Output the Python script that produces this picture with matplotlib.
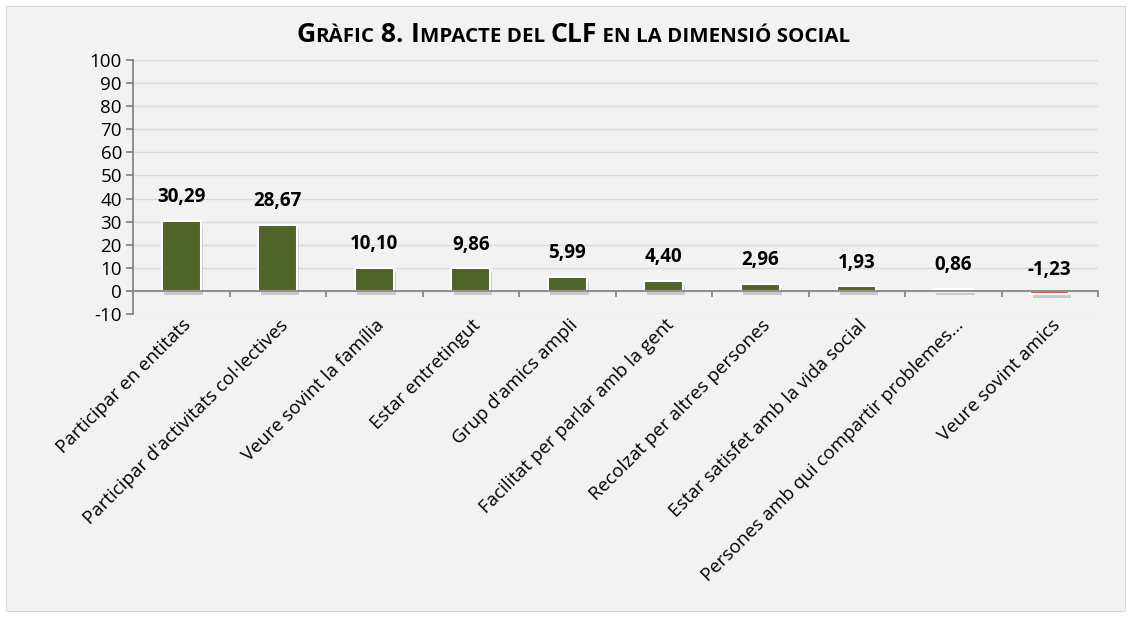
import matplotlib
matplotlib.use("Agg")
import matplotlib.pyplot as plt
import matplotlib.patches as mpatches
import matplotlib.patheffects as pe
from matplotlib.transforms import blended_transform_factory

plt.rcParams['font.family'] = ['Open Sans', 'DejaVu Sans']

categories = [
    "Participar en entitats",
    "Participar d'activitats col·lectives",
    "Veure sovint la família",
    "Estar entretingut",
    "Grup d'amics ampli",
    "Facilitat per parlar amb la gent",
    "Recolzat per altres persones",
    "Estar satisfet amb la vida social",
    "Persones amb qui compartir problemes…",
    "Veure sovint amics",
]
values = [30.29, 28.67, 10.10, 9.86, 5.99, 4.40, 2.96, 1.93, 0.86, -1.23]
value_labels = ["30,29", "28,67", "10,10", "9,86", "5,99", "4,40", "2,96", "1,93", "0,86", "-1,23"]
yticks = list(range(-10, 101, 10))

W, H = 1132, 617
fig = plt.figure(figsize=(W / 100, H / 100), dpi=100)
fig.patch.set_facecolor('white')
bg = mpatches.Rectangle((6 / W, 6 / H), (1125 - 6) / W, (611 - 6) / H,
                        transform=fig.transFigure, facecolor='#f2f2f2',
                        edgecolor='#d9d9d9', linewidth=0.8, zorder=-10)
fig.patches.append(bg)

ax = fig.add_axes([133 / W, 1 - 314 / H, (1098 - 133) / W, (314 - 60) / H])
ax.set_facecolor('none')
ax.set_zorder(1)

x = list(range(len(categories)))
colors = ['#4f6228' if v >= 0 else '#c0504d' for v in values]
bars = ax.bar(x, values, width=0.4, color=colors, edgecolor='white', linewidth=1.5, zorder=3)
for b in bars:
    b.set_path_effects([pe.SimplePatchShadow(offset=(1.5, -3), shadow_rgbFace='#8c8c8c', alpha=0.4),
                        pe.Normal()])

ax.set_xlim(-0.5, len(categories) - 0.5)
ax.set_ylim(-10, 100)
ax.set_yticks(yticks)
ax.set_yticklabels([str(t) for t in yticks], fontsize=13.5)
ax.yaxis.grid(True, color='#d9d9d9', linewidth=1, zorder=0)
ax.set_axisbelow(True)

for s in ['top', 'right', 'bottom']:
    ax.spines[s].set_visible(False)
ax.spines['left'].set_color('#868686')
ax.spines['left'].set_linewidth(1.3)
ax.tick_params(axis='y', direction='out', length=5, color='#868686', width=1.3, pad=3)

ax.axhline(0, color='#868686', linewidth=1.3, zorder=4)
ax.set_xticks([])
for i in range(len(categories)):
    bx = i + 0.5
    ax.plot([bx, bx], [0, -10 * 5 / 23.1], color='#868686', linewidth=1.3, zorder=4, clip_on=False)

for xi, v, lab in zip(x, values, value_labels):
    ax.annotate(lab, (xi, v), xytext=(0, 17), textcoords='offset points',
                ha='center', va='center', fontsize=13.5, fontweight='bold', color='black', zorder=5)

trans = blended_transform_factory(ax.transData, ax.transAxes)
for xi, cat in zip(x, categories):
    ax.text(xi + 0.01, -0.008, cat, transform=trans, rotation=45, rotation_mode='anchor',
            ha='right', va='top', fontsize=13.5, color='black')

# title with small caps simulation
pieces = [("G", 15), ("RÀFIC", 11.5), (" 8. ", 15), ("I", 15), ("MPACTE DEL ", 11.5),
          ("CLF", 15), (" EN LA DIMENSIÓ SOCIAL", 11.5)]
renderer = fig.canvas.get_renderer()
texts = [fig.text(0, 1 - 42 / H, s, fontsize=size, fontweight='bold', ha='left', va='baseline')
         for s, size in pieces]
total = sum(t.get_window_extent(renderer=renderer).width for t in texts)
scale = 551 / total
for t, (s, size) in zip(texts, pieces):
    t.set_fontsize(size * scale)
widths = [t.get_window_extent(renderer=renderer).width for t in texts]
cur = 573 - sum(widths) / 2
for t, w in zip(texts, widths):
    t.set_x(cur / W)
    cur += w

fig.savefig("out.png", dpi=100, facecolor=fig.get_facecolor())
